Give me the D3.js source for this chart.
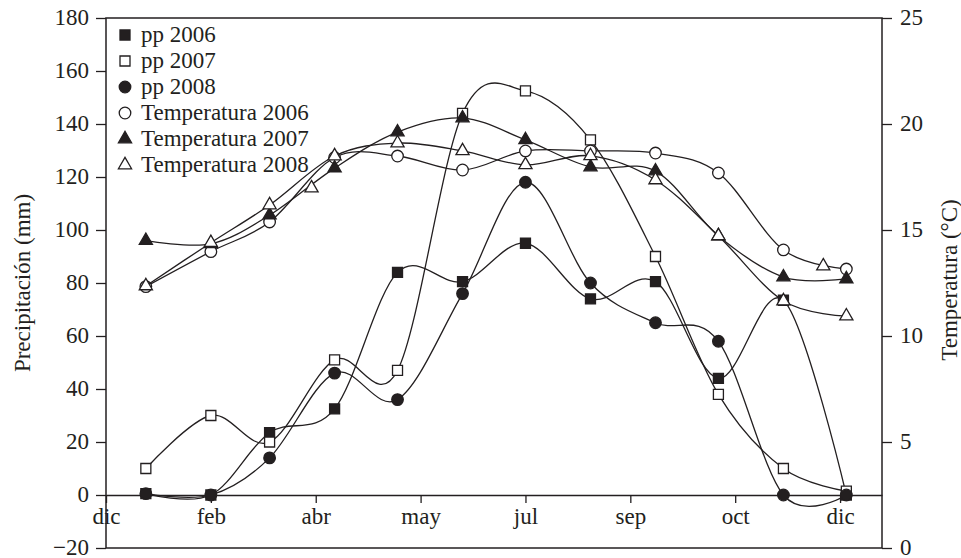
<!DOCTYPE html>
<html>
<head>
<meta charset="utf-8">
<script src="https://cdn.jsdelivr.net/npm/d3@7"></script>
<style>
	body { margin: 0; background: #fff; }
	svg text { font-family: "Liberation Serif", "DejaVu Serif", serif; font-size: 23px; fill: #231f20; }
</style>
</head>
<body>
<svg id="chart" width="961" height="558"></svg>
<script>
// one value per month, measured on the 15th
const months = ["ene", "feb", "mar", "abr", "may", "jun", "jul", "ago", "sep", "oct", "nov", "dic"]
const pp2006 = [0.5, 0, 23.5, 32.5, 84, 80.5, 95, 74, 80.5, 44, 73.5, 0]
const pp2007 = [10, 30, 20, 51, 47, 144, 152.5, 134, 90, 38, 10, 1.5]
const pp2008 = [0.5, 0, 14, 46, 36, 76, 118, 80, 65, 58, 0, 0]
const temp2006 = [12.33, 13.98, 15.38, 18.42, 18.49, 17.83, 18.73, 18.73, 18.63, 17.69, 14.06, 13.16]
const temp2007 = [14.5, 14.35, 15.7, 17.92, 19.62, 20.28, 19.25, 17.97, 17.78, 14.72, 12.78, 12.69]
const temp2008 = [12.36, 14.4, 16.18, 18.49, 19.1, 18.73, 18.07, 18.5, 17.36, 14.72, 11.65, 10.94]
// two loose triangles that sit on the chart with no line
const extraDates = ["2007-04-04", "2007-12-04"]
const extraTemp = [16.98, 13.3]

const xTickLabels = ["dic", "feb", "abr", "may", "jul", "sep", "oct", "dic"]
const xTickStart = "2006-12-27" //ticks every 50 days
const ppTicks = [-20, 0, 20, 40, 60, 80, 100, 120, 140, 160, 180]
const tempTicks = [0, 5, 10, 15, 20, 25]

const parseDay = d3.timeParse("%Y-%m-%d")
const monthDates = months.map((m, i) => new Date(2007, i, 15))
const tickDates = xTickLabels.map((l, i) => d3.timeDay.offset(parseDay(xTickStart), 50 * i))

const plotL = 106, plotR = 882, plotT = 18, plotB = 548
const ink = "#231f20"

const svg = d3.select("#chart")

const x = d3.scaleTime()
	.domain([parseDay(xTickStart), parseDay("2008-01-01")])
	.range([plotL, plotR])
const yPP = d3.scaleLinear().domain([-20, 180]).range([plotB, plotT])
const yT = d3.scaleLinear().domain([0, 25]).range([plotB, plotT])

// frame
svg.append("rect")
	.attr("x", plotL).attr("y", plotT)
	.attr("width", plotR - plotL).attr("height", plotB - plotT)
	.attr("fill", "none").attr("stroke", ink).attr("stroke-width", 1.5)

function styleAxis(g) {
	g.selectAll("line, path").attr("stroke", ink).attr("stroke-width", 1.3)
	g.selectAll("text").attr("fill", ink).style("font-size", "23px")
}

svg.append("g")
	.attr("transform", `translate(${plotL},0)`)
	.call(d3.axisLeft(yPP).tickValues(ppTicks).tickSize(10).tickPadding(7)
		.tickFormat(d => d < 0 ? "\u2212" + Math.abs(d) : d))
	.call(g => g.select(".domain").remove())
	.call(styleAxis)
	.call(g => g.selectAll("text").attr("dy", "0.3em"))

svg.append("g")
	.attr("transform", `translate(${plotR},0)`)
	.call(d3.axisRight(yT).tickValues(tempTicks).tickSize(10).tickPadding(8))
	.call(g => g.select(".domain").remove())
	.call(styleAxis)
	.call(g => g.selectAll("text").attr("dy", "0.3em"))

svg.append("g")
	.attr("transform", `translate(0,${yPP(0)})`)
	.call(d3.axisBottom(x).tickValues(tickDates).tickSize(8).tickSizeOuter(0).tickPadding(5)
		.tickFormat((d, i) => xTickLabels[i]))
	.call(styleAxis)

// axis titles
svg.append("text")
	.attr("transform", `translate(30,${(plotT + plotB) / 2}) rotate(-90)`)
	.attr("text-anchor", "middle")
	.text("Precipitación (mm)")
svg.append("text")
	.attr("transform", `translate(957,${(plotT + plotB) / 2 - 3}) rotate(-90)`)
	.attr("text-anchor", "middle")
	.text("Temperatura (°C)")

const series = [
	{ name: "pp 2006", values: pp2006, scale: yPP, symbol: d3.symbolSquare, size: 100, fill: ink },
	{ name: "pp 2007", values: pp2007, scale: yPP, symbol: d3.symbolSquare, size: 100, fill: "#fff" },
	{ name: "pp 2008", values: pp2008, scale: yPP, symbol: d3.symbolCircle, size: 105, fill: ink },
	{ name: "Temperatura 2006", values: temp2006, scale: yT, symbol: d3.symbolCircle, size: 105, fill: "#fff" },
	{ name: "Temperatura 2007", values: temp2007, scale: yT, symbol: d3.symbolTriangle, size: 75, fill: ink },
	{ name: "Temperatura 2008", values: temp2008, scale: yT, symbol: d3.symbolTriangle, size: 75, fill: "#fff" }
]

series.forEach(s => {
	const pts = s.values.map((v, i) => ({ date: monthDates[i], v: v }))
	const line = d3.line()
		.x(d => x(d.date))
		.y(d => s.scale(d.v))
		.curve(d3.curveCardinal.tension(0))
	svg.append("path")
		.attr("d", line(pts))
		.attr("fill", "none").attr("stroke", ink).attr("stroke-width", 1.3)
	svg.append("g").selectAll("path")
		.data(pts)
		.enter().append("path")
			.attr("transform", d => `translate(${x(d.date)},${s.scale(d.v)})`)
			.attr("d", d3.symbol().type(s.symbol).size(s.size))
			.attr("fill", s.fill).attr("stroke", ink).attr("stroke-width", 1.3)
})

svg.append("g").selectAll("path")
	.data(extraTemp)
	.enter().append("path")
		.attr("transform", (d, i) => `translate(${x(parseDay(extraDates[i]))},${yT(d)})`)
		.attr("d", d3.symbol().type(d3.symbolTriangle).size(75))
		.attr("fill", "#fff").attr("stroke", ink).attr("stroke-width", 1.3)

// legend
const legend = svg.append("g")
series.forEach((s, i) => {
	const base = 42 + 26 * i
	legend.append("path")
		.attr("transform", `translate(125,${base - 7})`)
		.attr("d", d3.symbol().type(s.symbol).size(s.size))
		.attr("fill", s.fill).attr("stroke", ink).attr("stroke-width", 1.3)
	legend.append("text")
		.attr("x", 141).attr("y", base)
		.text(s.name)
})
</script>
</body>
</html>
